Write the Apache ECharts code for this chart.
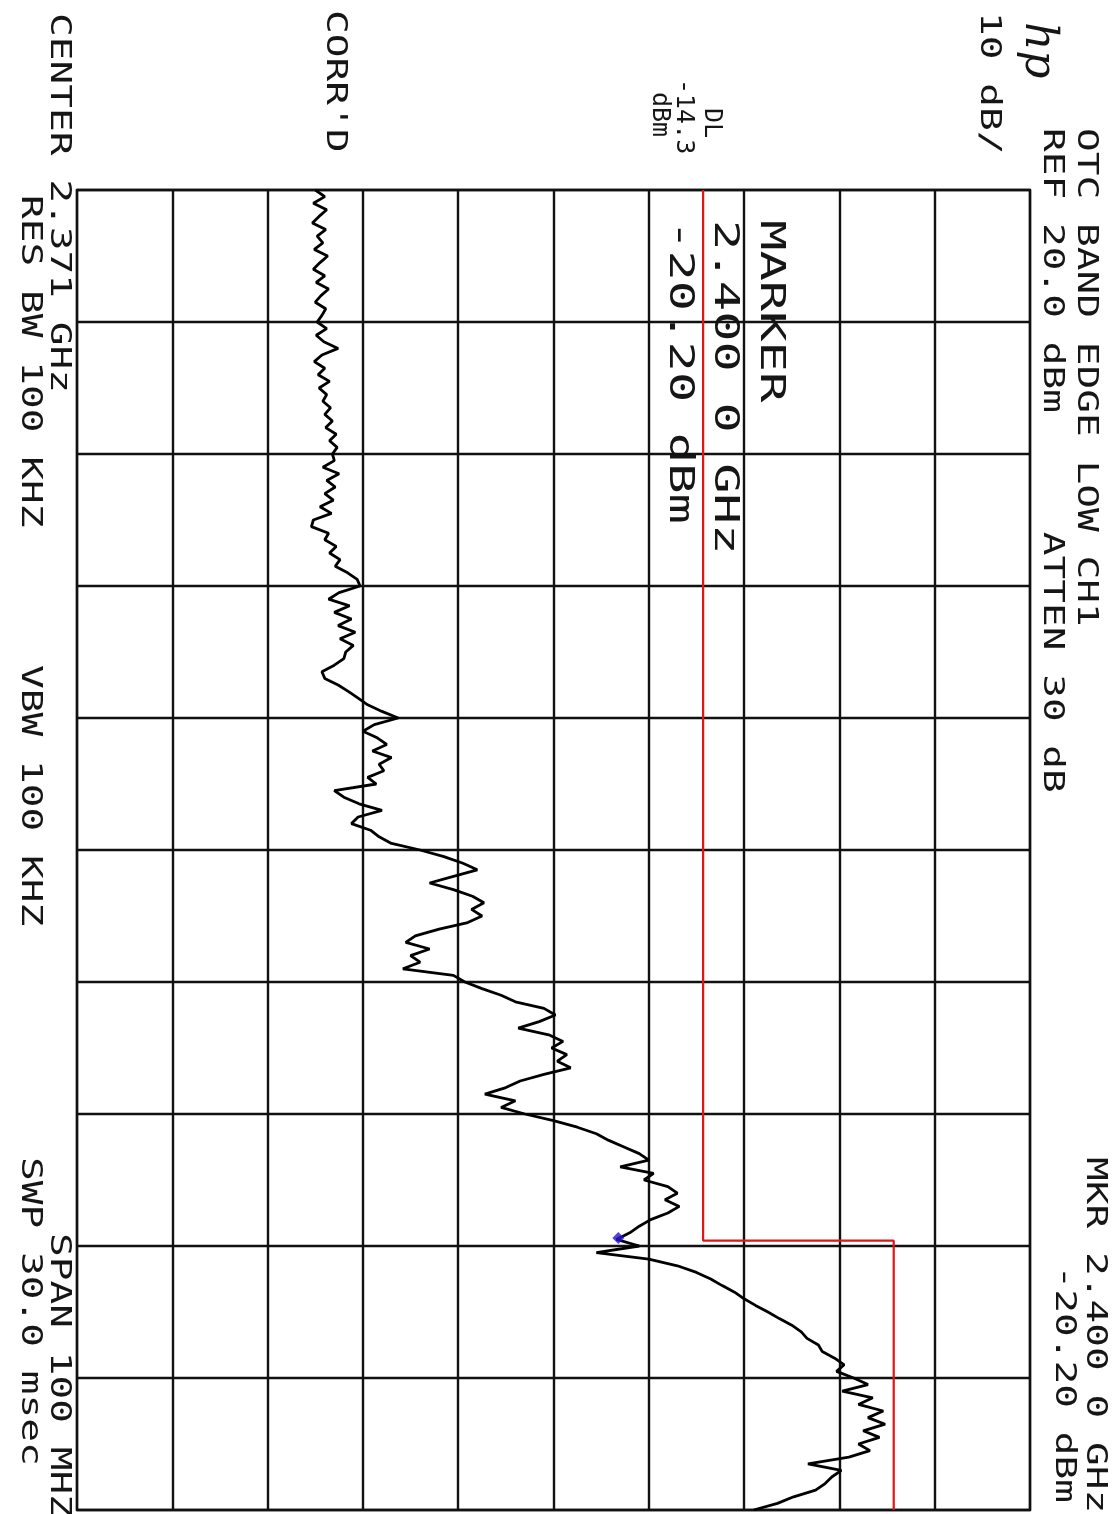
<!DOCTYPE html>
<html>
<head>
<meta charset="utf-8">
<script src="https://cdn.jsdelivr.net/npm/echarts@6/dist/echarts.min.js"></script>
<style>
html,body{margin:0;padding:0;background:#fff;}
#chart{width:1114px;height:1514px;}
</style>
</head>
<body>
<div id="chart"></div>
<script>
// ---- data ----
const CENTER_MHZ = 2371;        // CENTER 2.371 GHz
const SPAN_MHZ = 100;           // SPAN 100 MHz
const START_MHZ = 2321;         // first trace point
const STEP_MHZ = 0.5;           // spacing of the trace points
const REF_DBM = 20;             // REF 20.0 dBm
const DB_PER_DIV = 10;          // 10 dB/
// trace amplitude (dBm), one value every STEP_MHZ from START_MHZ
const traceDbm = [
 -55.0,-54.0,-55.2,-53.8,-54.6,-55.3,-53.9,-54.8,-54.2,-55.1,
 -53.7,-54.5,-55.2,-54.0,-54.9,-53.6,-54.4,-55.0,-53.9,-54.3,
 -54.8,-53.8,-54.9,-54.1,-52.6,-54.3,-55.1,-54.0,-54.7,-53.5,
 -54.6,-53.8,-54.2,-53.4,-54.0,-53.2,-53.9,-52.8,-53.5,-52.7,
 -53.2,-53.0,-54.2,-52.5,-53.8,-52.9,-54.0,-53.1,-54.5,-53.3,
 -55.2,-55.4,-53.6,-54.0,-52.8,-53.5,-52.4,-52.9,-51.6,-50.6,
 -50.3,-52.5,-53.6,-51.4,-53.0,-51.2,-52.6,-50.8,-52.4,-51.0,
 -51.8,-52.0,-53.0,-54.3,-54.0,-52.6,-51.5,-50.5,-49.5,-48.0,
 -46.3,-48.8,-50.0,-48.5,-47.5,-49.0,-47.0,-48.3,-47.8,-49.5,
 -48.6,-53.0,-52.0,-50.4,-48.0,-50.5,-51.2,-49.2,-48.3,-47.0,
 -44.0,-41.5,-39.5,-38.0,-40.5,-43.0,-40.5,-38.5,-37.3,-38.6,
 -37.5,-39.0,-42.0,-44.5,-45.5,-43.0,-45.0,-44.0,-45.8,-40.5,
 -39.3,-37.5,-35.5,-34.0,-31.0,-29.8,-31.5,-33.7,-30.5,-29.0,
 -30.2,-28.6,-29.6,-28.2,-31.0,-33.5,-35.0,-37.2,-34.0,-35.5,
 -33.0,-30.0,-27.5,-25.5,-24.2,-22.6,-21.0,-20.0,-23.0,-19.5,
 -20.5,-18.0,-17.0,-18.3,-16.8,-18.0,-19.8,-21.0,-22.0,-23.4,
 -21.0,-25.5,-20.0,-17.0,-15.0,-13.5,-12.3,-11.0,-10.0,-8.8,
 -7.5,-6.3,-5.0,-4.0,-3.4,-2.2,-1.8,-0.5,0.5,-0.3,
 1.5,3.0,0.3,3.5,2.0,4.6,3.0,4.8,2.5,4.2,
 2.0,3.2,1.0,-3.3,0.2,-0.8,-1.5,-2.5,-4.8,-6.5,
 -9.0
];
// display line / limit (red)
const dlFreqMHz = [2321, 2400.6, 2400.6, 2421];
const dlDbm = [-14.3, -14.3, 5.7, 5.7];
// marker
const markerFreqMHz = 2400.4;
const markerDbm = -23.2;

// ---- build ----
const traceData = traceDbm.map((v, i) => [v, START_MHZ + i * STEP_MHZ - CENTER_MHZ]);
const dlData = dlDbm.map((v, i) => [v, dlFreqMHz[i] - CENTER_MHZ]);

const MONO = '"DejaVu Sans Mono", "Liberation Mono", monospace';
// vertical text reading top-to-bottom; cx = centre of the glyph column
function vtext(cx, y, str, size, sx, align, fontSpec) {
  return {
    type: 'text',
    x: cx, y: y,
    rotation: -Math.PI / 2,
    scaleX: sx || 1,
    style: {
      text: str,
      fill: '#161616',
      font: fontSpec || (size + 'px ' + MONO),
      textAlign: align || 'left',
      textVerticalAlign: 'middle'
    }
  };
}

const H = 29, HS = 1.36;   // header font size / stretch
const M = 33, MS = 1.53;   // in-graticule marker readout

const chart = echarts.init(document.getElementById('chart'), null, {renderer: 'canvas'});
chart.setOption({
  backgroundColor: '#ffffff',
  animation: false,
  grid: {
    left: 77, right: 84, top: 190, bottom: 4,
    show: true, borderColor: '#111', borderWidth: 2.4, backgroundColor: 'transparent'
  },
  xAxis: {
    type: 'value',
    min: REF_DBM - 10 * DB_PER_DIV, max: REF_DBM, interval: DB_PER_DIV,
    axisLabel: {show: false}, axisTick: {show: false},
    axisLine: {show: false},
    splitLine: {show: true, lineStyle: {color: '#111', width: 2.4}}
  },
  yAxis: {
    type: 'value', inverse: true,
    min: -SPAN_MHZ / 2, max: SPAN_MHZ / 2, interval: SPAN_MHZ / 10,
    axisLabel: {show: false}, axisTick: {show: false},
    axisLine: {show: false},
    splitLine: {show: true, lineStyle: {color: '#111', width: 2.4}}
  },
  series: [
    {
      type: 'line', data: dlData, symbol: 'none',
      lineStyle: {color: '#e31414', width: 2.2}, z: 3
    },
    {
      type: 'line', data: traceData, symbol: 'none',
      lineStyle: {color: '#000', width: 2.8}, z: 4
    },
    {
      type: 'scatter', data: [[markerDbm, markerFreqMHz - CENTER_MHZ]],
      symbol: 'diamond', symbolSize: 12,
      itemStyle: {color: '#2a12d8'}, z: 5
    }
  ],
  graphic: [
    vtext(1037, 22, 'hp', 44, 1, 'left', 'italic 44px "DejaVu Serif", serif'),
    vtext(989, 12, '10 dB/', H, HS),
    vtext(1086, 128, 'OTC BAND EDGE LOW CH1', H, HS),
    vtext(1052, 128, 'REF 20.0 dBm     ATTEN 30 dB', H, HS),
    vtext(1095, 1157, 'MKR 2.400 0 GHz', H, HS),
    vtext(1064, 1503, '-20.20 dBm', H, HS, 'right'),
    vtext(711, 108, 'DL', 25),
    vtext(683, 79, '-14.3', 25),
    vtext(659, 92, 'dBm', 25),
    vtext(335, 10, "CORR'D", H, HS),
    vtext(59, 13, 'CENTER 2.371 GHz', H, HS),
    vtext(30, 195, 'RES BW 100 KHZ', H, HS),
    vtext(30, 665, 'VBW 100 KHZ', H, HS),
    vtext(59, 1233, 'SPAN 100 MHZ', H, HS),
    vtext(30, 1157, 'SWP 30.0 msec', H, HS),
    vtext(770, 220, 'MARKER', M, MS),
    vtext(724, 220, '2.400 0 GHz', M, MS),
    vtext(679, 220, '-20.20 dBm', M, MS)
  ]
});
</script>
</body>
</html>
